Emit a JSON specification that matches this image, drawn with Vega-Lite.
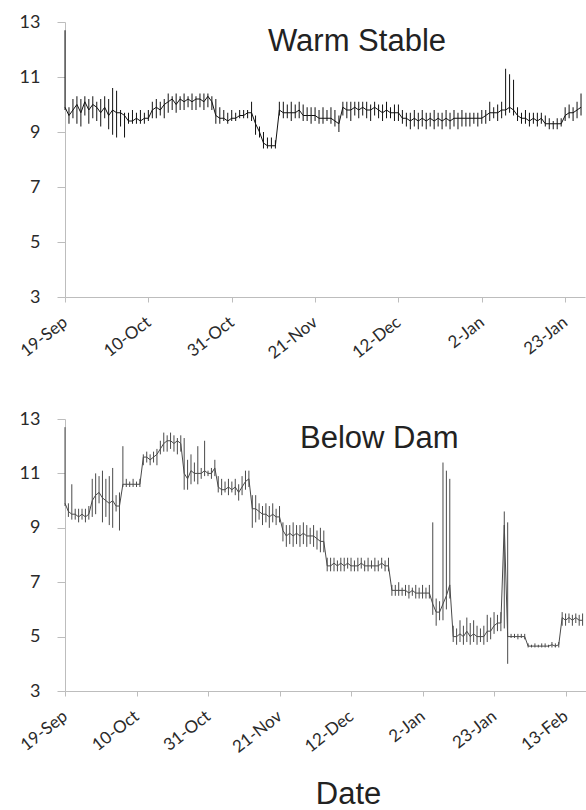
{
"$schema": "https://vega.github.io/schema/vega-lite/v6.json",
"background": "white",
"padding": {"left": 17, "top": 13, "right": 0, "bottom": 0},
"spacing": 48,
"config": {
 "view": {"stroke": null},
 "axis": {"grid": false, "domainColor": "#bdbdbd", "tickColor": "#bdbdbd", "labelColor": "#2a2a2a", "labelFont": "Lato"}
},
"datasets": {
"ws": [
{"d":"2011-09-19","lo":9.8,"hi":12.7,"v":9.9},
{"d":"2011-09-20","lo":9.3,"hi":9.9,"v":9.6},
{"d":"2011-09-21","lo":9.5,"hi":10.2,"v":9.8},
{"d":"2011-09-22","lo":9.3,"hi":10.3,"v":10.0},
{"d":"2011-09-23","lo":9.2,"hi":10.2,"v":9.7},
{"d":"2011-09-24","lo":9.6,"hi":10.3,"v":10.1},
{"d":"2011-09-25","lo":9.3,"hi":10.2,"v":9.8},
{"d":"2011-09-26","lo":9.5,"hi":10.3,"v":10.0},
{"d":"2011-09-27","lo":9.4,"hi":10.1,"v":9.9},
{"d":"2011-09-28","lo":9.2,"hi":10.2,"v":9.7},
{"d":"2011-09-29","lo":9.5,"hi":10.3,"v":9.9},
{"d":"2011-09-30","lo":9.1,"hi":10.2,"v":9.6},
{"d":"2011-10-01","lo":8.9,"hi":10.6,"v":9.8},
{"d":"2011-10-02","lo":8.8,"hi":10.5,"v":9.7},
{"d":"2011-10-03","lo":9.2,"hi":9.8,"v":9.7},
{"d":"2011-10-04","lo":8.8,"hi":9.7,"v":9.6},
{"d":"2011-10-05","lo":9.3,"hi":9.7,"v":9.4},
{"d":"2011-10-06","lo":9.3,"hi":9.8,"v":9.4},
{"d":"2011-10-07","lo":9.3,"hi":9.7,"v":9.5},
{"d":"2011-10-08","lo":9.3,"hi":9.8,"v":9.4},
{"d":"2011-10-09","lo":9.3,"hi":9.7,"v":9.5},
{"d":"2011-10-10","lo":9.4,"hi":9.8,"v":9.5},
{"d":"2011-10-11","lo":9.5,"hi":10.1,"v":9.8},
{"d":"2011-10-12","lo":9.5,"hi":10.2,"v":9.9},
{"d":"2011-10-13","lo":9.6,"hi":10.1,"v":9.8},
{"d":"2011-10-14","lo":9.5,"hi":10.2,"v":10.0},
{"d":"2011-10-15","lo":9.7,"hi":10.4,"v":10.1},
{"d":"2011-10-16","lo":9.8,"hi":10.3,"v":10.2},
{"d":"2011-10-17","lo":9.7,"hi":10.4,"v":10.0},
{"d":"2011-10-18","lo":9.8,"hi":10.3,"v":10.2},
{"d":"2011-10-19","lo":9.8,"hi":10.4,"v":10.1},
{"d":"2011-10-20","lo":9.9,"hi":10.3,"v":10.2},
{"d":"2011-10-21","lo":9.8,"hi":10.4,"v":10.1},
{"d":"2011-10-22","lo":9.8,"hi":10.3,"v":10.2},
{"d":"2011-10-23","lo":9.9,"hi":10.4,"v":10.2},
{"d":"2011-10-24","lo":9.8,"hi":10.4,"v":10.1},
{"d":"2011-10-25","lo":9.9,"hi":10.4,"v":10.3},
{"d":"2011-10-26","lo":9.8,"hi":10.3,"v":10.1},
{"d":"2011-10-27","lo":9.3,"hi":10.2,"v":9.6},
{"d":"2011-10-28","lo":9.3,"hi":9.9,"v":9.5},
{"d":"2011-10-29","lo":9.4,"hi":9.8,"v":9.5},
{"d":"2011-10-30","lo":9.3,"hi":9.7,"v":9.4},
{"d":"2011-10-31","lo":9.4,"hi":9.8,"v":9.5},
{"d":"2011-11-01","lo":9.4,"hi":9.7,"v":9.5},
{"d":"2011-11-02","lo":9.5,"hi":9.8,"v":9.6},
{"d":"2011-11-03","lo":9.5,"hi":9.8,"v":9.6},
{"d":"2011-11-04","lo":9.5,"hi":9.8,"v":9.7},
{"d":"2011-11-05","lo":9.4,"hi":10.1,"v":9.7},
{"d":"2011-11-06","lo":8.9,"hi":9.6,"v":9.3},
{"d":"2011-11-07","lo":8.8,"hi":9.2,"v":9.0},
{"d":"2011-11-08","lo":8.4,"hi":9.0,"v":8.6},
{"d":"2011-11-09","lo":8.4,"hi":8.8,"v":8.5},
{"d":"2011-11-10","lo":8.4,"hi":8.8,"v":8.5},
{"d":"2011-11-11","lo":8.4,"hi":8.7,"v":8.5},
{"d":"2011-11-12","lo":9.6,"hi":10.1,"v":9.8},
{"d":"2011-11-13","lo":9.5,"hi":10.1,"v":9.7},
{"d":"2011-11-14","lo":9.5,"hi":10.0,"v":9.7},
{"d":"2011-11-15","lo":9.4,"hi":10.1,"v":9.7},
{"d":"2011-11-16","lo":9.5,"hi":10.0,"v":9.7},
{"d":"2011-11-17","lo":9.5,"hi":10.1,"v":9.8},
{"d":"2011-11-18","lo":9.4,"hi":10.0,"v":9.6},
{"d":"2011-11-19","lo":9.4,"hi":9.9,"v":9.6},
{"d":"2011-11-20","lo":9.3,"hi":9.9,"v":9.6},
{"d":"2011-11-21","lo":9.4,"hi":9.9,"v":9.6},
{"d":"2011-11-22","lo":9.3,"hi":9.8,"v":9.5},
{"d":"2011-11-23","lo":9.3,"hi":9.9,"v":9.5},
{"d":"2011-11-24","lo":9.4,"hi":9.8,"v":9.5},
{"d":"2011-11-25","lo":9.3,"hi":9.9,"v":9.5},
{"d":"2011-11-26","lo":9.2,"hi":9.8,"v":9.4},
{"d":"2011-11-27","lo":9.0,"hi":9.6,"v":9.3},
{"d":"2011-11-28","lo":9.6,"hi":10.1,"v":9.9},
{"d":"2011-11-29","lo":9.5,"hi":10.1,"v":9.8},
{"d":"2011-11-30","lo":9.4,"hi":10.1,"v":9.8},
{"d":"2011-12-01","lo":9.6,"hi":10.1,"v":9.9},
{"d":"2011-12-02","lo":9.5,"hi":10.1,"v":9.8},
{"d":"2011-12-03","lo":9.6,"hi":10.1,"v":9.9},
{"d":"2011-12-04","lo":9.5,"hi":10.1,"v":9.8},
{"d":"2011-12-05","lo":9.4,"hi":10.0,"v":9.8},
{"d":"2011-12-06","lo":9.6,"hi":10.1,"v":9.9},
{"d":"2011-12-07","lo":9.5,"hi":10.0,"v":9.8},
{"d":"2011-12-08","lo":9.4,"hi":10.0,"v":9.7},
{"d":"2011-12-09","lo":9.5,"hi":10.1,"v":9.8},
{"d":"2011-12-10","lo":9.5,"hi":9.9,"v":9.7},
{"d":"2011-12-11","lo":9.4,"hi":10.0,"v":9.7},
{"d":"2011-12-12","lo":9.4,"hi":10.0,"v":9.7},
{"d":"2011-12-13","lo":9.3,"hi":9.8,"v":9.5},
{"d":"2011-12-14","lo":9.2,"hi":9.7,"v":9.5},
{"d":"2011-12-15","lo":9.1,"hi":9.7,"v":9.4},
{"d":"2011-12-16","lo":9.2,"hi":9.8,"v":9.5},
{"d":"2011-12-17","lo":9.1,"hi":9.7,"v":9.4},
{"d":"2011-12-18","lo":9.2,"hi":9.8,"v":9.5},
{"d":"2011-12-19","lo":9.1,"hi":9.7,"v":9.4},
{"d":"2011-12-20","lo":9.2,"hi":9.7,"v":9.5},
{"d":"2011-12-21","lo":9.1,"hi":9.8,"v":9.4},
{"d":"2011-12-22","lo":9.2,"hi":9.7,"v":9.5},
{"d":"2011-12-23","lo":9.1,"hi":9.7,"v":9.4},
{"d":"2011-12-24","lo":9.2,"hi":9.8,"v":9.5},
{"d":"2011-12-25","lo":9.1,"hi":9.7,"v":9.4},
{"d":"2011-12-26","lo":9.2,"hi":9.8,"v":9.5},
{"d":"2011-12-27","lo":9.1,"hi":9.7,"v":9.5},
{"d":"2011-12-28","lo":9.2,"hi":9.8,"v":9.5},
{"d":"2011-12-29","lo":9.2,"hi":9.7,"v":9.5},
{"d":"2011-12-30","lo":9.2,"hi":9.7,"v":9.5},
{"d":"2011-12-31","lo":9.3,"hi":9.7,"v":9.5},
{"d":"2012-01-01","lo":9.2,"hi":9.7,"v":9.5},
{"d":"2012-01-02","lo":9.3,"hi":9.8,"v":9.5},
{"d":"2012-01-03","lo":9.3,"hi":9.8,"v":9.6},
{"d":"2012-01-04","lo":9.4,"hi":10.1,"v":9.7},
{"d":"2012-01-05","lo":9.5,"hi":9.9,"v":9.7},
{"d":"2012-01-06","lo":9.4,"hi":10.0,"v":9.7},
{"d":"2012-01-07","lo":9.5,"hi":10.1,"v":9.8},
{"d":"2012-01-08","lo":9.6,"hi":11.3,"v":9.8},
{"d":"2012-01-09","lo":9.7,"hi":11.1,"v":9.9},
{"d":"2012-01-10","lo":9.6,"hi":10.9,"v":9.8},
{"d":"2012-01-11","lo":9.4,"hi":9.9,"v":9.6},
{"d":"2012-01-12","lo":9.3,"hi":9.7,"v":9.5},
{"d":"2012-01-13","lo":9.3,"hi":9.8,"v":9.5},
{"d":"2012-01-14","lo":9.2,"hi":9.7,"v":9.4},
{"d":"2012-01-15","lo":9.3,"hi":9.7,"v":9.5},
{"d":"2012-01-16","lo":9.2,"hi":9.7,"v":9.4},
{"d":"2012-01-17","lo":9.3,"hi":9.7,"v":9.5},
{"d":"2012-01-18","lo":9.2,"hi":9.6,"v":9.3},
{"d":"2012-01-19","lo":9.1,"hi":9.5,"v":9.3},
{"d":"2012-01-20","lo":9.1,"hi":9.4,"v":9.3},
{"d":"2012-01-21","lo":9.1,"hi":9.5,"v":9.3},
{"d":"2012-01-22","lo":9.2,"hi":9.5,"v":9.3},
{"d":"2012-01-23","lo":9.4,"hi":9.9,"v":9.6},
{"d":"2012-01-24","lo":9.5,"hi":10.0,"v":9.7},
{"d":"2012-01-25","lo":9.4,"hi":9.9,"v":9.7},
{"d":"2012-01-26","lo":9.5,"hi":10.1,"v":9.8},
{"d":"2012-01-27","lo":9.6,"hi":10.4,"v":9.9}
],
"bd": [
{"d":"2011-09-19","lo":9.8,"hi":12.7,"v":9.9},
{"d":"2011-09-20","lo":9.4,"hi":9.9,"v":9.6},
{"d":"2011-09-21","lo":9.3,"hi":10.6,"v":9.5},
{"d":"2011-09-22","lo":9.3,"hi":9.7,"v":9.5},
{"d":"2011-09-23","lo":9.2,"hi":9.7,"v":9.4},
{"d":"2011-09-24","lo":9.3,"hi":9.7,"v":9.5},
{"d":"2011-09-25","lo":9.2,"hi":9.7,"v":9.4},
{"d":"2011-09-26","lo":9.3,"hi":9.8,"v":9.5},
{"d":"2011-09-27","lo":9.4,"hi":10.8,"v":10.0},
{"d":"2011-09-28","lo":9.5,"hi":11.0,"v":10.2},
{"d":"2011-09-29","lo":9.9,"hi":10.9,"v":10.3},
{"d":"2011-09-30","lo":9.2,"hi":11.1,"v":10.1},
{"d":"2011-10-01","lo":9.4,"hi":10.8,"v":10.0},
{"d":"2011-10-02","lo":9.1,"hi":10.9,"v":9.9},
{"d":"2011-10-03","lo":9.0,"hi":11.2,"v":10.0},
{"d":"2011-10-04","lo":9.6,"hi":10.2,"v":9.8},
{"d":"2011-10-05","lo":8.9,"hi":10.3,"v":9.8},
{"d":"2011-10-06","lo":10.5,"hi":12.0,"v":10.6},
{"d":"2011-10-07","lo":10.5,"hi":10.8,"v":10.6},
{"d":"2011-10-08","lo":10.5,"hi":10.7,"v":10.6},
{"d":"2011-10-09","lo":10.5,"hi":10.8,"v":10.6},
{"d":"2011-10-10","lo":10.5,"hi":10.7,"v":10.6},
{"d":"2011-10-11","lo":10.5,"hi":10.8,"v":10.6},
{"d":"2011-10-12","lo":11.3,"hi":11.7,"v":11.6},
{"d":"2011-10-13","lo":11.4,"hi":11.8,"v":11.6},
{"d":"2011-10-14","lo":11.3,"hi":11.7,"v":11.5},
{"d":"2011-10-15","lo":11.4,"hi":11.8,"v":11.6},
{"d":"2011-10-16","lo":11.3,"hi":11.9,"v":11.7},
{"d":"2011-10-17","lo":11.7,"hi":12.2,"v":11.9},
{"d":"2011-10-18","lo":11.8,"hi":12.5,"v":12.1},
{"d":"2011-10-19","lo":11.8,"hi":12.4,"v":12.2},
{"d":"2011-10-20","lo":11.9,"hi":12.5,"v":12.2},
{"d":"2011-10-21","lo":11.8,"hi":12.4,"v":12.1},
{"d":"2011-10-22","lo":11.7,"hi":12.3,"v":12.2},
{"d":"2011-10-23","lo":11.8,"hi":12.4,"v":12.1},
{"d":"2011-10-24","lo":10.4,"hi":12.3,"v":11.0},
{"d":"2011-10-25","lo":10.4,"hi":11.5,"v":10.8},
{"d":"2011-10-26","lo":10.6,"hi":11.7,"v":11.1},
{"d":"2011-10-27","lo":10.7,"hi":11.4,"v":11.0},
{"d":"2011-10-28","lo":10.6,"hi":12.0,"v":11.0},
{"d":"2011-10-29","lo":10.8,"hi":11.2,"v":11.0},
{"d":"2011-10-30","lo":10.9,"hi":12.2,"v":11.1},
{"d":"2011-10-31","lo":10.9,"hi":11.1,"v":11.0},
{"d":"2011-11-01","lo":10.8,"hi":11.2,"v":11.0},
{"d":"2011-11-02","lo":10.9,"hi":11.5,"v":11.2},
{"d":"2011-11-03","lo":10.3,"hi":10.9,"v":10.5},
{"d":"2011-11-04","lo":10.2,"hi":10.8,"v":10.4},
{"d":"2011-11-05","lo":10.3,"hi":10.7,"v":10.4},
{"d":"2011-11-06","lo":10.2,"hi":10.8,"v":10.5},
{"d":"2011-11-07","lo":10.3,"hi":10.7,"v":10.4},
{"d":"2011-11-08","lo":10.2,"hi":10.8,"v":10.5},
{"d":"2011-11-09","lo":10.0,"hi":10.6,"v":10.3},
{"d":"2011-11-10","lo":10.2,"hi":10.9,"v":10.5},
{"d":"2011-11-11","lo":10.4,"hi":11.1,"v":10.7},
{"d":"2011-11-12","lo":10.5,"hi":11.1,"v":10.8},
{"d":"2011-11-13","lo":9.0,"hi":10.2,"v":9.7},
{"d":"2011-11-14","lo":9.2,"hi":10.2,"v":9.7},
{"d":"2011-11-15","lo":9.3,"hi":9.9,"v":9.6},
{"d":"2011-11-16","lo":9.1,"hi":9.8,"v":9.5},
{"d":"2011-11-17","lo":9.2,"hi":9.9,"v":9.5},
{"d":"2011-11-18","lo":9.0,"hi":9.8,"v":9.4},
{"d":"2011-11-19","lo":9.2,"hi":9.9,"v":9.5},
{"d":"2011-11-20","lo":9.1,"hi":9.7,"v":9.4},
{"d":"2011-11-21","lo":9.2,"hi":9.8,"v":9.4},
{"d":"2011-11-22","lo":8.5,"hi":9.2,"v":8.9},
{"d":"2011-11-23","lo":8.3,"hi":9.1,"v":8.7},
{"d":"2011-11-24","lo":8.4,"hi":9.1,"v":8.8},
{"d":"2011-11-25","lo":8.3,"hi":9.2,"v":8.7},
{"d":"2011-11-26","lo":8.4,"hi":9.1,"v":8.8},
{"d":"2011-11-27","lo":8.3,"hi":9.1,"v":8.7},
{"d":"2011-11-28","lo":8.4,"hi":9.2,"v":8.8},
{"d":"2011-11-29","lo":8.3,"hi":9.1,"v":8.7},
{"d":"2011-11-30","lo":8.4,"hi":9.0,"v":8.7},
{"d":"2011-12-01","lo":8.3,"hi":9.1,"v":8.7},
{"d":"2011-12-02","lo":8.2,"hi":8.9,"v":8.6},
{"d":"2011-12-03","lo":8.1,"hi":9.0,"v":8.5},
{"d":"2011-12-04","lo":8.1,"hi":8.9,"v":8.5},
{"d":"2011-12-05","lo":7.4,"hi":7.9,"v":7.6},
{"d":"2011-12-06","lo":7.4,"hi":7.9,"v":7.6},
{"d":"2011-12-07","lo":7.4,"hi":7.9,"v":7.7},
{"d":"2011-12-08","lo":7.4,"hi":7.8,"v":7.6},
{"d":"2011-12-09","lo":7.4,"hi":7.9,"v":7.7},
{"d":"2011-12-10","lo":7.4,"hi":7.9,"v":7.6},
{"d":"2011-12-11","lo":7.5,"hi":7.9,"v":7.7},
{"d":"2011-12-12","lo":7.4,"hi":7.9,"v":7.6},
{"d":"2011-12-13","lo":7.4,"hi":7.8,"v":7.6},
{"d":"2011-12-14","lo":7.4,"hi":7.9,"v":7.6},
{"d":"2011-12-15","lo":7.5,"hi":7.9,"v":7.7},
{"d":"2011-12-16","lo":7.4,"hi":7.8,"v":7.6},
{"d":"2011-12-17","lo":7.4,"hi":7.9,"v":7.6},
{"d":"2011-12-18","lo":7.5,"hi":7.8,"v":7.6},
{"d":"2011-12-19","lo":7.4,"hi":7.9,"v":7.6},
{"d":"2011-12-20","lo":7.4,"hi":7.8,"v":7.6},
{"d":"2011-12-21","lo":7.5,"hi":7.9,"v":7.7},
{"d":"2011-12-22","lo":7.4,"hi":7.8,"v":7.6},
{"d":"2011-12-23","lo":7.4,"hi":7.9,"v":7.6},
{"d":"2011-12-24","lo":6.5,"hi":6.9,"v":6.7},
{"d":"2011-12-25","lo":6.5,"hi":6.9,"v":6.7},
{"d":"2011-12-26","lo":6.5,"hi":7.0,"v":6.7},
{"d":"2011-12-27","lo":6.5,"hi":6.8,"v":6.7},
{"d":"2011-12-28","lo":6.5,"hi":6.9,"v":6.7},
{"d":"2011-12-29","lo":6.4,"hi":6.9,"v":6.6},
{"d":"2011-12-30","lo":6.5,"hi":6.8,"v":6.7},
{"d":"2011-12-31","lo":6.4,"hi":6.9,"v":6.6},
{"d":"2012-01-01","lo":6.4,"hi":6.8,"v":6.6},
{"d":"2012-01-02","lo":6.4,"hi":6.9,"v":6.6},
{"d":"2012-01-03","lo":6.4,"hi":6.8,"v":6.6},
{"d":"2012-01-04","lo":6.4,"hi":6.9,"v":6.6},
{"d":"2012-01-05","lo":5.8,"hi":9.2,"v":6.2},
{"d":"2012-01-06","lo":5.4,"hi":6.4,"v":5.9},
{"d":"2012-01-07","lo":5.6,"hi":6.3,"v":5.9},
{"d":"2012-01-08","lo":5.6,"hi":11.4,"v":6.2},
{"d":"2012-01-09","lo":6.0,"hi":11.1,"v":6.5},
{"d":"2012-01-10","lo":6.4,"hi":10.8,"v":6.9},
{"d":"2012-01-11","lo":4.8,"hi":5.4,"v":5.0},
{"d":"2012-01-12","lo":4.7,"hi":5.3,"v":5.0},
{"d":"2012-01-13","lo":4.8,"hi":5.6,"v":5.1},
{"d":"2012-01-14","lo":4.7,"hi":5.4,"v":5.0},
{"d":"2012-01-15","lo":4.8,"hi":5.7,"v":5.2},
{"d":"2012-01-16","lo":4.7,"hi":5.5,"v":5.0},
{"d":"2012-01-17","lo":4.8,"hi":5.6,"v":5.1},
{"d":"2012-01-18","lo":4.7,"hi":5.4,"v":5.0},
{"d":"2012-01-19","lo":4.8,"hi":5.3,"v":5.0},
{"d":"2012-01-20","lo":4.7,"hi":5.4,"v":5.0},
{"d":"2012-01-21","lo":4.8,"hi":5.8,"v":5.2},
{"d":"2012-01-22","lo":4.9,"hi":5.7,"v":5.2},
{"d":"2012-01-23","lo":5.1,"hi":5.9,"v":5.4},
{"d":"2012-01-24","lo":5.2,"hi":5.8,"v":5.5},
{"d":"2012-01-25","lo":5.2,"hi":5.9,"v":5.5},
{"d":"2012-01-26","lo":5.3,"hi":9.6,"v":9.1},
{"d":"2012-01-27","lo":4.0,"hi":9.2,"v":5.0},
{"d":"2012-01-28","lo":4.95,"hi":5.1,"v":5.0},
{"d":"2012-01-29","lo":4.95,"hi":5.1,"v":5.0},
{"d":"2012-01-30","lo":4.9,"hi":5.1,"v":5.0},
{"d":"2012-01-31","lo":4.95,"hi":5.1,"v":5.0},
{"d":"2012-02-01","lo":4.9,"hi":5.1,"v":5.0},
{"d":"2012-02-02","lo":4.6,"hi":4.75,"v":4.65},
{"d":"2012-02-03","lo":4.6,"hi":4.7,"v":4.65},
{"d":"2012-02-04","lo":4.6,"hi":4.75,"v":4.65},
{"d":"2012-02-05","lo":4.6,"hi":4.7,"v":4.65},
{"d":"2012-02-06","lo":4.6,"hi":4.75,"v":4.65},
{"d":"2012-02-07","lo":4.6,"hi":4.75,"v":4.65},
{"d":"2012-02-08","lo":4.6,"hi":4.7,"v":4.65},
{"d":"2012-02-09","lo":4.6,"hi":4.8,"v":4.7},
{"d":"2012-02-10","lo":4.6,"hi":4.75,"v":4.65},
{"d":"2012-02-11","lo":4.6,"hi":4.8,"v":4.7},
{"d":"2012-02-12","lo":5.4,"hi":5.9,"v":5.7},
{"d":"2012-02-13","lo":5.4,"hi":5.85,"v":5.6},
{"d":"2012-02-14","lo":5.5,"hi":5.85,"v":5.7},
{"d":"2012-02-15","lo":5.4,"hi":5.8,"v":5.6},
{"d":"2012-02-16","lo":5.5,"hi":5.85,"v":5.7},
{"d":"2012-02-17","lo":5.4,"hi":5.8,"v":5.6},
{"d":"2012-02-18","lo":5.4,"hi":5.85,"v":5.6}
]
},
"vconcat": [
{
 "width": 520, "height": 275,
 "title": {"text": "Warm Stable", "anchor": "start", "frame": "group", "dx": 203, "offset": -69, "fontSize": 31, "font": "Liberation Sans", "fontWeight": "normal", "color": "#222", "baseline": "alphabetic"},
 "data": {"name": "ws"},
 "encoding": {
  "x": {"field": "d", "type": "temporal",
   "scale": {"type": "utc", "domain": [{"year": 2011, "month": 9, "date": 19, "utc": true}, {"year": 2012, "month": 1, "date": 28, "utc": true}]},
   "axis": {"title": null, "labelExpr": "utcFormat(datum.value, '%-d-%b')", "labelAngle": -38, "labelAlign": "right", "labelBaseline": "middle", "labelFontSize": 17, "tickSize": 5, "labelPadding": 18,
    "values": [{"year": 2011, "month": 9, "date": 19, "utc": true}, {"year": 2011, "month": 10, "date": 10, "utc": true}, {"year": 2011, "month": 10, "date": 31, "utc": true}, {"year": 2011, "month": 11, "date": 21, "utc": true}, {"year": 2011, "month": 12, "date": 12, "utc": true}, {"year": 2012, "month": 1, "date": 2, "utc": true}, {"year": 2012, "month": 1, "date": 23, "utc": true}]}}
 },
 "layer": [
  {"mark": {"type": "rule", "color": "#111111", "strokeWidth": 1},
   "encoding": {"y": {"field": "lo", "type": "quantitative", "scale": {"domain": [3, 13], "nice": false, "zero": false}, "axis": {"title": null, "values": [3, 5, 7, 9, 11, 13], "labelFontSize": 18, "tickSize": 8, "labelPadding": 17}}, "y2": {"field": "hi"}}},
  {"mark": {"type": "line", "color": "#111111", "strokeWidth": 1},
   "encoding": {"y": {"field": "v", "type": "quantitative", "scale": {"domain": [3, 13], "nice": false, "zero": false}, "axis": {"title": null, "values": [3, 5, 7, 9, 11, 13], "labelFontSize": 18, "tickSize": 8, "labelPadding": 17}}}}
 ]
},
{
 "width": 521, "height": 272,
 "title": {"text": "Below Dam", "anchor": "start", "frame": "group", "dx": 235, "offset": -69, "fontSize": 31, "font": "Liberation Sans", "fontWeight": "normal", "color": "#222", "baseline": "alphabetic"},
 "data": {"name": "bd"},
 "encoding": {
  "x": {"field": "d", "type": "temporal",
   "scale": {"type": "utc", "domain": [{"year": 2011, "month": 9, "date": 19, "utc": true}, {"year": 2012, "month": 2, "date": 19, "utc": true}]},
   "axis": {"title": "Date", "titleFont": "Liberation Sans", "titleFontSize": 31, "titleFontWeight": "normal", "titleColor": "#222", "titleX": 283, "titleY": 112, "titleBaseline": "alphabetic", "titleAlign": "center",
    "labelExpr": "utcFormat(datum.value, '%-d-%b')", "labelAngle": -38, "labelAlign": "right", "labelBaseline": "middle", "labelFontSize": 17, "tickSize": 5, "labelPadding": 18,
    "values": [{"year": 2011, "month": 9, "date": 19, "utc": true}, {"year": 2011, "month": 10, "date": 10, "utc": true}, {"year": 2011, "month": 10, "date": 31, "utc": true}, {"year": 2011, "month": 11, "date": 21, "utc": true}, {"year": 2011, "month": 12, "date": 12, "utc": true}, {"year": 2012, "month": 1, "date": 2, "utc": true}, {"year": 2012, "month": 1, "date": 23, "utc": true}, {"year": 2012, "month": 2, "date": 13, "utc": true}]}}
 },
 "layer": [
  {"mark": {"type": "rule", "color": "#4a4a4a", "strokeWidth": 1},
   "encoding": {"y": {"field": "lo", "type": "quantitative", "scale": {"domain": [3, 13], "nice": false, "zero": false}, "axis": {"title": null, "values": [3, 5, 7, 9, 11, 13], "labelFontSize": 18, "tickSize": 8, "labelPadding": 17}}, "y2": {"field": "hi"}}},
  {"mark": {"type": "line", "color": "#4a4a4a", "strokeWidth": 1},
   "encoding": {"y": {"field": "v", "type": "quantitative", "scale": {"domain": [3, 13], "nice": false, "zero": false}, "axis": {"title": null, "values": [3, 5, 7, 9, 11, 13], "labelFontSize": 18, "tickSize": 8, "labelPadding": 17}}}}
 ]
}
]
}
